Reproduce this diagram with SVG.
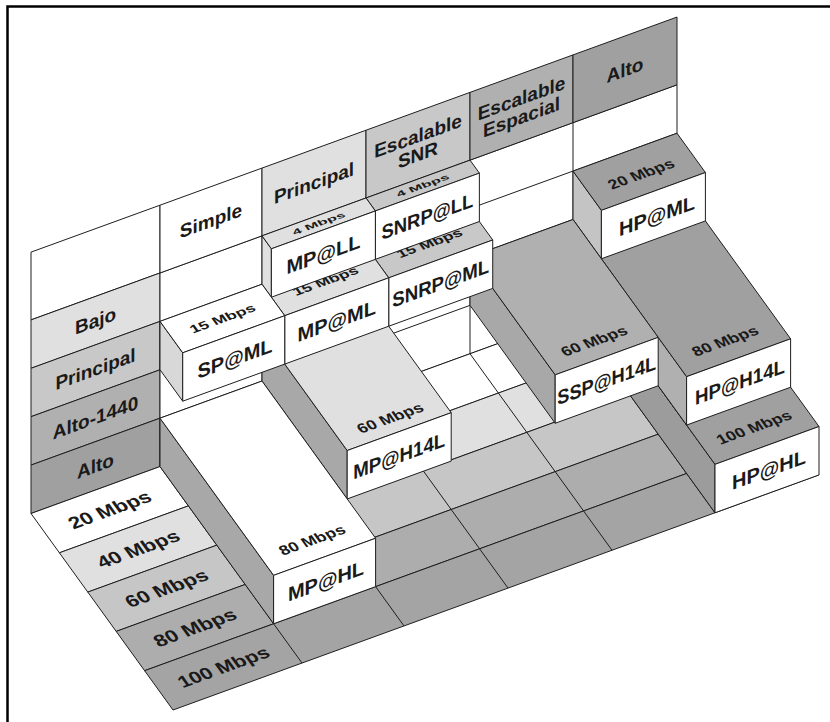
<svg xmlns="http://www.w3.org/2000/svg" width="830" height="722" viewBox="0 0 830 722">
<style>
.e{stroke:#1e1e1e;stroke-width:1;stroke-linejoin:round}
.ln{fill:none;stroke:#1e1e1e;stroke-width:1}
.w{fill:#fff}.g1{fill:#e0e0e0}.g2{fill:#c8c8c8}.g3{fill:#b0b0b0}.g4{fill:#a0a0a0}
.lf1{fill:#d8d8d8}.lf2{fill:#a8a8a8}.lf3{fill:#c4c4c4}.lf4{fill:#9c9c9c}
text{font-family:"Liberation Sans",Arial,Helvetica,sans-serif;font-weight:bold;fill:#1a1a1a;text-anchor:middle}
.h{font-size:19px}.f{font-size:20px}.t{font-size:16px}.s{font-size:15px}
</style>
<rect width="830" height="722" fill="#fff"/>
<path d="M7.5,722 V6.5 H830" fill="none" stroke="#000" stroke-width="2.5"/>

<g id="wall">
  <polygon class="e w" points="31,319.9 31,252.14 160,205.2 160,272.96"/>
  <polygon class="e g1" points="31,368.3 31,319.9 160,272.96 160,321.36"/>
  <polygon class="e g2" points="31,416.7 31,368.3 160,321.36 160,369.76"/>
  <polygon class="e g3" points="31,465.1 31,416.7 160,369.76 160,418.16"/>
  <polygon class="e g4" points="31,513.5 31,465.1 160,418.16 160,466.56"/>
  <polygon class="e w" points="160,466.56 160,272.96 677,84.82 677,278.42"/>
  <path class="ln" d="M160,418.16 L677,230.02 M160,369.76 L677,181.62 M160,321.36 L677,133.22 M262,429.44 V235.84 M366,391.59 V197.99 M470,353.75 V160.15 M573,316.27 V122.67"/>
  <polygon class="e w" points="160,272.96 160,205.2 262,168.08 262,235.84"/>
  <polygon class="e g1" points="262,235.84 262,168.08 366,130.23 366,197.99"/>
  <polygon class="e g2" points="366,197.99 366,130.23 470,92.39 470,160.15"/>
  <polygon class="e g3" points="470,160.15 470,92.39 573,54.91 573,122.67"/>
  <polygon class="e g4" points="573,122.67 573,54.91 677,17.06 677,84.82"/>
  <g class="h">
    <text transform="translate(211,220.5) skewY(-20)" y="6.7">Simple</text>
    <text transform="translate(314,183) skewY(-20)" y="6.7">Principal</text>
    <text transform="translate(418,145.2) skewY(-20)" y="-2.8">Escalable</text>
    <text transform="translate(418,145.2) skewY(-20)" y="16.2">SNR</text>
    <text transform="translate(521.5,107.5) skewY(-20)" y="-2.8">Escalable</text>
    <text transform="translate(521.5,107.5) skewY(-20)" y="16.2">Espacial</text>
    <text transform="translate(625,69.8) skewY(-20)" y="6.7">Alto</text>
    <text transform="translate(95.5,320.6) skewY(-20)" y="6.7">Bajo</text>
    <text transform="translate(95.5,369) skewY(-20)" y="6.7">Principal</text>
    <text transform="translate(95.5,417.4) skewY(-20)" y="6.7">Alto-1440</text>
    <text transform="translate(95.5,465.8) skewY(-20)" y="6.7">Alto</text>
  </g>
</g>

<g id="floor">
  <polygon class="e w" points="31,513.5 677,278.42 705.4,317.72 59.4,552.8"/>
  <polygon class="e g1" points="59.4,552.8 705.4,317.72 733.8,357.02 87.8,592.1"/>
  <polygon class="e" fill="#c6c6c6" points="87.8,592.1 733.8,357.02 762.2,396.32 116.2,631.4"/>
  <polygon class="e" fill="#adadad" points="116.2,631.4 762.2,396.32 790.6,435.62 144.6,670.7"/>
  <polygon class="e" fill="#a4a4a4" points="144.6,670.7 790.6,435.62 819,474.92 173,710"/>
  <path class="ln" d="M160,466.56 L302,663.06 M262,429.44 L404,625.94 M366,391.59 L508,588.09 M470,353.75 L612,550.25 M573,316.27 L715,512.77"/>
  <g class="f">
    <text transform="matrix(1,-0.3639,0.54,0.75,109.7,509.7)" y="7">20 Mbps</text>
    <text transform="matrix(1,-0.3639,0.54,0.75,138.1,549)" y="7">40 Mbps</text>
    <text transform="matrix(1,-0.3639,0.54,0.75,166.5,588.3)" y="7">60 Mbps</text>
    <text transform="matrix(1,-0.3639,0.54,0.75,194.9,627.6)" y="7">80 Mbps</text>
    <text transform="matrix(1,-0.3639,0.54,0.75,223.3,666.9)" y="7" style="font-size:19.5px">100 Mbps</text>
  </g>
</g>

<g id="HP-HL">
  <polygon class="e lf4" points="573,316.27 573,267.87 715,464.37 715,512.77"/>
  <polygon class="e g4" points="573,267.87 677,230.02 819,426.52 715,464.37"/>
  <polygon class="e w" points="715,464.37 819,426.52 819,474.92 715,512.77"/>
  <text class="t" transform="matrix(1,-0.3639,0.54,0.75,754,427.3)" y="5.6">100 Mbps</text>
  <text class="f" transform="translate(769,469.6) skewY(-20)" y="7">HP@HL</text>
</g>
<g id="HP-H14L">
  <polygon class="e g3" points="573,267.87 573,219.47 686.6,376.67 686.6,425.07"/>
  <polygon class="e g4" points="573,219.47 677,181.62 790.6,338.82 686.6,376.67"/>
  <polygon class="e w" points="686.6,376.67 790.6,338.82 790.6,387.22 686.6,425.07"/>
  <text class="t" transform="matrix(1,-0.3639,0.54,0.75,725,341)" y="5.6">80 Mbps</text>
  <text class="f" transform="translate(740,381.9) skewY(-20)" y="7" textLength="90" lengthAdjust="spacingAndGlyphs">HP@H14L</text>
</g>
<g id="HP-ML">
  <polygon class="e lf3" points="573,219.47 573,171.07 601.4,210.37 601.4,258.77"/>
  <polygon class="e g4" points="573,171.07 677,133.22 705.4,172.52 601.4,210.37"/>
  <polygon class="e w" points="601.4,210.37 705.4,172.52 705.4,220.92 601.4,258.77"/>
  <text class="t" transform="matrix(1,-0.3639,0.54,0.75,641,174)" y="5.6">20 Mbps</text>
  <text class="f" transform="translate(657,215.6) skewY(-20)" y="7">HP@ML</text>
</g>
<g id="SSP-H14L">
  <polygon class="e lf2" points="470,305.35 470,256.95 555.2,374.85 555.2,423.25"/>
  <polygon class="e g3" points="470,256.95 573,219.47 658.2,337.37 555.2,374.85"/>
  <polygon class="e w" points="555.2,374.85 658.2,337.37 658.2,385.77 555.2,423.25"/>
  <text class="t" transform="matrix(1,-0.3639,0.54,0.75,594,341)" y="5.6">60 Mbps</text>
  <text class="f" transform="translate(606.7,380.3) skewY(-20)" y="7" textLength="99" lengthAdjust="spacingAndGlyphs">SSP@H14L</text>
</g>
<g id="SNRP-ML">
  <polygon class="e g2" points="366,294.79 366,246.39 388.72,277.83 388.72,326.23"/>
  <polygon class="e g2" points="366,246.39 470,208.55 492.72,239.99 388.72,277.83"/>
  <polygon class="e w" points="388.72,277.83 492.72,239.99 492.72,288.39 388.72,326.23"/>
  <text class="t" transform="matrix(1,-0.3639,0.45,0.62,429.4,243.2)" y="5.6">15 Mbps</text>
  <text class="f" transform="translate(440.7,283.1) skewY(-20)" y="7" textLength="97" lengthAdjust="spacingAndGlyphs">SNRP@ML</text>
</g>
<g id="SNRP-LL">
  <polygon class="e g2" points="366,246.39 366,197.99 375.37,210.96 375.37,259.36"/>
  <polygon class="e g2" points="366,197.99 470,160.15 479.37,173.12 375.37,210.96"/>
  <polygon class="e w" points="375.37,210.96 479.37,173.12 479.37,221.52 375.37,259.36"/>
  <text class="s" transform="matrix(1,-0.3639,0.33,0.45,422.7,185.6)" y="5.2">4 Mbps</text>
  <text class="f" transform="translate(427.4,216.3) skewY(-20)" y="7" textLength="92" lengthAdjust="spacingAndGlyphs">SNRP@LL</text>
</g>
<g id="MP-H14L">
  <polygon class="e lf2" points="262,381.04 262,332.64 347.2,450.54 347.2,498.94"/>
  <polygon class="e g1" points="262,332.64 366,294.79 451.2,412.69 347.2,450.54"/>
  <polygon class="e w" points="347.2,450.54 451.2,412.69 451.2,461.09 347.2,498.94"/>
  <text class="t" transform="matrix(1,-0.3639,0.54,0.75,390,418)" y="5.6">60 Mbps</text>
  <text class="f" transform="translate(399.2,455.8) skewY(-20)" y="7" textLength="92" lengthAdjust="spacingAndGlyphs">MP@H14L</text>
</g>
<g id="MP-ML">
  <polygon class="e g1" points="262,332.64 262,284.24 284.72,315.68 284.72,364.08"/>
  <polygon class="e g1" points="262,284.24 366,246.39 388.72,277.83 284.72,315.68"/>
  <polygon class="e w" points="284.72,315.68 388.72,277.83 388.72,326.23 284.72,364.08"/>
  <text class="t" transform="matrix(1,-0.3639,0.45,0.62,325.4,281)" y="5.6">15 Mbps</text>
  <text class="f" transform="translate(336.7,320.9) skewY(-20)" y="7">MP@ML</text>
</g>
<g id="MP-LL">
  <polygon class="e g1" points="262,284.24 262,235.84 271.37,248.81 271.37,297.21"/>
  <polygon class="e g1" points="262,235.84 366,197.99 375.37,210.96 271.37,248.81"/>
  <polygon class="e w" points="271.37,248.81 375.37,210.96 375.37,259.36 271.37,297.21"/>
  <text class="s" transform="matrix(1,-0.3639,0.33,0.45,318.7,223.4)" y="5.2">4 Mbps</text>
  <text class="f" transform="translate(323.4,254.1) skewY(-20)" y="7">MP@LL</text>
</g>
<g id="MP-HL">
  <polygon class="e lf2" points="160,466.56 160,418.16 273.6,575.36 273.6,623.76"/>
  <polygon class="e w" points="160,418.16 262,381.04 375.6,538.24 273.6,575.36"/>
  <polygon class="e w" points="273.6,575.36 375.6,538.24 375.6,586.64 273.6,623.76"/>
  <text class="t" transform="matrix(1,-0.3639,0.54,0.75,312,540)" y="5.6">80 Mbps</text>
  <text class="f" transform="translate(326,581) skewY(-20)" y="7">MP@HL</text>
</g>
<g id="SP-ML">
  <polygon class="e lf1" points="160,369.76 160,321.36 182.72,352.8 182.72,401.2"/>
  <polygon class="e w" points="160,321.36 262,284.24 284.72,315.68 182.72,352.8"/>
  <polygon class="e w" points="182.72,352.8 284.72,315.68 284.72,364.08 182.72,401.2"/>
  <text class="t" transform="matrix(1,-0.3639,0.45,0.62,222.4,318.5)" y="5.6">15 Mbps</text>
  <text class="f" transform="translate(235,358.4) skewY(-20)" y="7">SP@ML</text>
</g>
</svg>
